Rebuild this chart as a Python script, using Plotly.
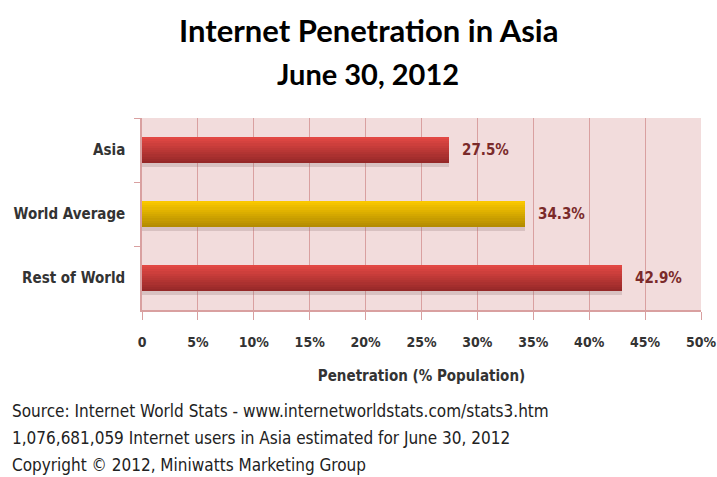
import plotly.graph_objects as go

categories = ["Asia", "World Average", "Rest of World"]
values = [27.5, 34.3, 42.9]
value_labels = ["27.5%", "34.3%", "42.9%"]
tick_vals = [0, 5, 10, 15, 20, 25, 30, 35, 40, 45, 50]
tick_text = ["0", "5%", "10%", "15%", "20%", "25%", "30%", "35%", "40%", "45%", "50%"]
title_lines = ["Internet Penetration in Asia", "June 30, 2012"]
footer = ["Source: Internet World Stats - www.internetworldstats.com/stats3.htm",
          "1,076,681,059 Internet users in Asia estimated for June 30, 2012",
          "Copyright \u00a9 2012, Miniwatts Marketing Group"]

# gradient colors (top, bottom) per bar
top_cols = [(226, 72, 68), (250, 200, 0), (226, 72, 68)]
bot_cols = [(150, 40, 40), (180, 140, 0), (150, 40, 40)]

LBL_FONT = "DejaVu Sans Condensed, Liberation Sans Narrow, Arial Narrow, sans-serif"

def lerp(a, b, t):
    return "rgb(%d,%d,%d)" % tuple(int(round(a[i] + (b[i] - a[i]) * t)) for i in range(3))

L, R, T, B = 142, 16, 118, 167
PW, PH = 717 - L - R, 477 - T - B

fig = go.Figure()
W = 0.41
N = 12
# shadow
fig.add_trace(go.Bar(x=values, y=categories, orientation="h", width=0.07,
                     offset=W / 2 - 0.01, marker=dict(color="rgba(140,110,110,0.25)", line=dict(width=0)),
                     hoverinfo="skip", showlegend=False))
for k in range(N):
    t = k / (N - 1)
    fig.add_trace(go.Bar(
        x=values, y=categories, orientation="h",
        width=W / N + 0.002, offset=-W / 2 + k * W / N,
        marker=dict(color=[lerp(top_cols[i], bot_cols[i], t) for i in range(3)], line=dict(width=0)),
        hoverinfo="skip", showlegend=False))

for v, c, lab in zip(values, categories, value_labels):
    fig.add_annotation(x=v, y=c, text=lab, xanchor="left", xshift=11, showarrow=False,
                       font=dict(family=LBL_FONT, size=15, color="#7a2a2a", weight="bold"))

fig.update_layout(
    width=717, height=477,
    margin=dict(l=L, r=R, t=T, b=B),
    paper_bgcolor="white", plot_bgcolor="#f2dcdc",
    barmode="overlay", bargap=0,
    font=dict(family=LBL_FONT),
)
for i, (line, yc, sz) in enumerate(zip(title_lines, [30, 73], [31, 29])):
    fig.add_annotation(text=line, xref="paper", yref="paper", x=(368 - L) / PW, xanchor="center",
                       y=(477 - B - yc) / PH, yanchor="middle", showarrow=False,
                       font=dict(family="Lato, Open Sans, sans-serif", size=sz, color="black", weight="bold"))

fig.update_xaxes(range=[0, 50], tickvals=tick_vals, ticktext=tick_text,
                 showgrid=True, gridcolor="#d9a0a0", gridwidth=1.2,
                 showline=True, linecolor="#d9a0a0", linewidth=1.5,
                 ticks="outside", ticklen=8, tickcolor="#d9a0a0", ticklabelstandoff=10,
                 ticklabeloverflow="allow", automargin=False,
                 tickfont=dict(size=14, color="#333333", weight="bold"),
                 zeroline=False, fixedrange=True,
                 title=dict(text="Penetration (% Population)", standoff=22,
                            font=dict(size=15, color="#333333", weight="bold")))
fig.update_yaxes(autorange="reversed", categoryorder="array", categoryarray=categories,
                 showgrid=False, showline=True, linecolor="#d9a0a0", linewidth=1.5,
                 ticks="outside", tickson="boundaries", ticklen=6, tickcolor="#d9a0a0",
                 tickfont=dict(size=15, color="#333333", weight="bold"), automargin=False,
                 ticklabelstandoff=12, fixedrange=True)

for i, line in enumerate(footer):
    fig.add_annotation(text=line, xref="paper", yref="paper", x=(10 - L) / PW, xanchor="left",
                       y=-(411 - (477 - B) + i * 27) / PH, yanchor="middle", showarrow=False,
                       font=dict(family=LBL_FONT, size=17, color="#222222"))

fig.write_html("out.html", config={"displayModeBar": False})
with open("out.html", "r", encoding="utf-8") as f:
    html = f.read()
html = html.replace("<head>", "<head><style>html,body{margin:0;padding:0;overflow:hidden;}</style>", 1)
with open("out.html", "w", encoding="utf-8") as f:
    f.write(html)
